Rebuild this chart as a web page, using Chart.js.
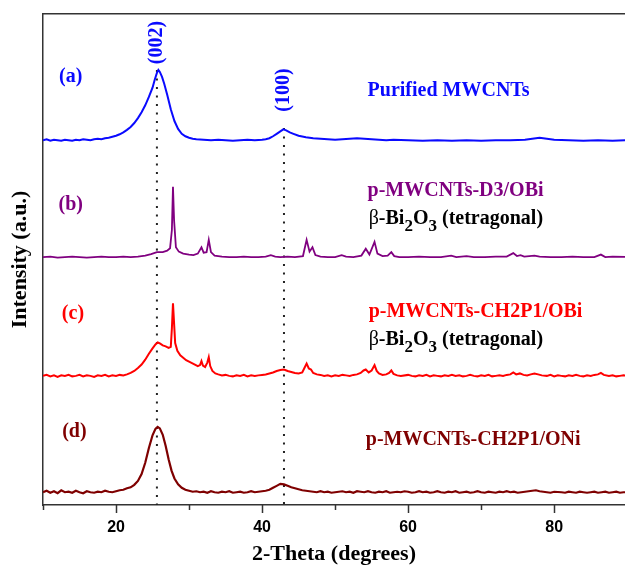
<!DOCTYPE html>
<html>
<head>
<meta charset="utf-8">
<script src="https://cdn.jsdelivr.net/npm/chart.js@4.4.1/dist/chart.umd.min.js"></script>
<style>
  html, body { margin: 0; padding: 0; background: #fff; }
  #wrap { width: 625px; height: 567px; }
</style>
</head>
<body>
<div id="wrap"><canvas id="xrdChart" width="625" height="567"></canvas></div>
<script>
// 2-theta tick values and their labels
const xTickValues = [10, 20, 30, 40, 50, 60, 70, 80];
const xTickLabels = ['', '20', '', '40', '', '60', '', '80'];

// (a) purified MWCNTs  [2theta, intensity]
const seriesA = [[10,74.3],[10.5,74.5],[11,74.2],[11.5,74.4],[12,74.3],[12.5,74.2],[13,74.4],[13.5,74.3],[14,74.2],[14.5,74.4],[15,74.3],[15.5,74.5],[16,74.4],[16.5,74.3],[17,74.5],[17.5,74.6],[18,74.5],[18.5,74.7],[19,74.8],[19.5,75.0],[20,75.2],[20.5,75.5],[21,75.9],[21.5,76.4],[22,77.0],[22.5,77.8],[23,78.8],[23.5,80.0],[24,81.4],[24.5,83.1],[25,85.0],[25.3,86.6],[25.6,88.0],[25.8,88.6],[26.0,88.2],[26.3,87.2],[26.6,85.8],[27,83.6],[27.5,80.6],[28,78.2],[28.5,76.6],[29,75.6],[29.5,75.1],[30,74.8],[30.5,74.6],[31,74.5],[32,74.4],[33,74.3],[34,74.4],[35,74.3],[36,74.2],[37,74.3],[38,74.4],[39,74.3],[40,74.4],[40.5,74.5],[41,74.7],[41.5,75.1],[42,75.6],[42.5,76.1],[42.9,76.5],[43.3,76.3],[43.8,75.9],[44.3,75.6],[45,75.2],[46,74.9],[47,74.7],[48,74.6],[49,74.5],[50,74.4],[51,74.5],[52,74.6],[53,74.7],[54,74.6],[55,74.5],[56,74.4],[57,74.3],[58,74.4],[60,74.3],[62,74.2],[64,74.3],[66,74.2],[68,74.3],[70,74.2],[72,74.3],[74,74.3],[76,74.4],[77,74.6],[78,74.8],[79,74.6],[80,74.4],[82,74.3],[84,74.2],[86,74.3],[88,74.2],[90,74.3]];

// (b) p-MWCNTs-D3/OBi
const seriesB = [[10,50.5],[11,50.6],[12,50.4],[13,50.5],[14,50.6],[15,50.5],[16,50.4],[17,50.5],[18,50.6],[19,50.5],[20,50.5],[21,50.6],[22,50.5],[23,50.6],[24,50.8],[24.8,51.1],[25.6,51.5],[26.4,51.5],[27,51.8],[27.4,52.3],[27.65,56],[27.8,64.8],[27.95,58],[28.2,52.5],[28.6,51.6],[29.2,51.2],[30,51.0],[30.6,50.9],[31.2,51.2],[31.7,52.5],[32.0,51.4],[32.4,51.5],[32.7,54.0],[33.0,51.5],[33.5,50.8],[34.5,50.6],[35.5,50.5],[36.5,50.5],[37.5,50.6],[38.5,50.5],[39.5,50.5],[40.5,50.6],[41.2,50.9],[41.8,50.6],[42.5,50.5],[43.5,50.6],[44.5,50.5],[45.6,50.7],[46.1,54.0],[46.5,51.6],[46.9,52.5],[47.3,50.9],[48,50.6],[49,50.5],[50,50.5],[50.9,50.9],[51.5,50.6],[52.5,50.5],[53.6,50.8],[54.2,52.2],[54.7,51.0],[55.4,53.6],[55.8,51.2],[56.5,50.7],[57.2,50.8],[57.7,51.5],[58.1,50.7],[58.8,50.5],[60,50.5],[61.5,50.6],[63,50.5],[64.5,50.5],[65.9,50.8],[66.6,50.5],[68,50.7],[69,50.5],[70.5,50.5],[72,50.6],[73.5,50.6],[74.4,51.3],[74.9,50.7],[75.4,50.9],[75.9,50.6],[77.3,50.8],[78,50.6],[79.5,50.5],[81,50.5],[82.5,50.6],[84,50.5],[85.5,50.5],[86.4,51.0],[87,50.5],[88,50.6],[90,50.5]];

// (c) p-MWCNTs-CH2P1/OBi
const seriesC = [[10,26.3],[10.5,26.5],[11,26.2],[11.5,26.4],[12,26.1],[12.5,26.4],[13,26.3],[13.5,26.5],[14,26.2],[14.5,26.3],[15,26.5],[15.5,26.2],[16,26.4],[16.5,26.3],[17,26.1],[17.5,26.4],[18,26.3],[18.5,26.5],[19,26.2],[19.5,26.4],[20,26.3],[20.5,26.5],[21,26.4],[21.5,26.6],[22,26.9],[22.5,27.3],[23,27.9],[23.5,28.6],[24,29.6],[24.5,30.8],[25,31.9],[25.4,32.7],[25.7,33.1],[26,32.9],[26.4,32.5],[26.8,32.3],[27.2,32.0],[27.5,32.2],[27.65,36],[27.8,41.1],[27.95,37],[28.1,33.0],[28.4,31.4],[28.8,30.5],[29.2,30.0],[29.6,29.5],[30,29.2],[30.4,28.9],[30.8,28.6],[31.2,28.3],[31.5,28.5],[31.7,29.3],[31.9,28.4],[32.2,28.1],[32.5,29.0],[32.7,30.1],[32.9,28.3],[33.2,27.3],[33.6,26.8],[34,26.6],[34.5,26.4],[35,26.5],[35.5,26.3],[36,26.2],[36.5,26.4],[37,26.3],[37.5,26.5],[38,26.2],[38.5,26.4],[39,26.3],[39.5,26.4],[40,26.5],[40.5,26.6],[41,26.8],[41.5,27.0],[42,27.3],[42.5,27.5],[43,27.6],[43.5,27.3],[44,27.1],[44.5,26.9],[45,26.8],[45.5,27.0],[45.8,27.9],[46.1,28.8],[46.4,27.8],[46.7,27.6],[47,26.9],[47.5,26.6],[48,26.5],[48.5,26.3],[49,26.4],[49.5,26.2],[50,26.4],[50.5,26.3],[51,26.5],[51.5,26.4],[52,26.3],[52.5,26.5],[53,26.6],[53.5,26.9],[53.9,27.4],[54.2,27.6],[54.6,27.0],[55.0,27.4],[55.4,28.5],[55.7,27.3],[56,26.8],[56.5,26.5],[57,26.6],[57.4,26.9],[57.7,27.4],[58,26.7],[58.5,26.4],[59,26.3],[60,26.5],[60.5,26.3],[61,26.2],[61.5,26.4],[62,26.3],[62.5,26.5],[63,26.2],[63.5,26.4],[64,26.3],[64.5,26.2],[65,26.4],[65.5,26.3],[66,26.5],[66.5,26.3],[67,26.4],[67.5,26.2],[68,26.3],[68.5,26.5],[69,26.3],[69.5,26.2],[70,26.4],[70.5,26.3],[71,26.5],[71.5,26.2],[72,26.3],[72.5,26.4],[73,26.3],[73.5,26.5],[74,26.6],[74.4,27.0],[74.8,26.6],[75.3,26.8],[75.8,26.5],[76.3,26.4],[76.8,26.6],[77.3,26.8],[77.8,26.6],[78.3,26.4],[79,26.3],[79.5,26.5],[80,26.2],[80.5,26.4],[81,26.3],[81.5,26.2],[82,26.4],[82.5,26.3],[83,26.5],[83.5,26.3],[84,26.2],[84.5,26.4],[85,26.3],[85.5,26.5],[86,26.6],[86.4,26.9],[86.8,26.5],[87.5,26.3],[88,26.4],[88.5,26.2],[89,26.3],[89.5,26.4],[90,26.3]];

// (d) p-MWCNTs-CH2P1/ONi
const seriesD = [[10,2.6],[10.5,2.9],[11,2.5],[11.5,2.8],[12,2.4],[12.5,3.0],[13,2.6],[13.5,2.7],[14,2.5],[14.5,2.9],[15,2.6],[15.5,2.4],[16,2.8],[16.5,2.6],[17,2.5],[17.5,2.7],[18,2.6],[18.5,2.9],[19,2.7],[19.5,2.6],[20,2.8],[20.5,3.0],[21,3.1],[21.5,3.4],[22,3.6],[22.5,4.1],[23,4.9],[23.5,6.3],[24,8.6],[24.5,11.6],[25,14.2],[25.4,15.5],[25.7,15.9],[26,15.6],[26.4,14.3],[26.8,12.0],[27.2,9.3],[27.6,7.0],[28,5.4],[28.5,4.2],[29,3.5],[29.5,3.1],[30,2.9],[30.5,2.7],[31,2.8],[31.5,2.6],[32,2.7],[32.5,2.5],[33,2.8],[33.5,2.6],[34,2.5],[34.5,2.7],[35,2.6],[35.5,2.8],[36,2.5],[36.5,2.6],[37,2.7],[37.5,2.5],[38,2.6],[38.5,2.8],[39,2.6],[39.5,2.7],[40,2.8],[40.5,2.9],[41,3.1],[41.5,3.5],[42,3.9],[42.5,4.3],[43,4.2],[43.5,3.9],[44,3.6],[44.5,3.4],[45,3.2],[45.5,3.0],[46,2.9],[46.5,2.8],[47,2.7],[47.5,2.6],[48,2.8],[48.5,2.6],[49,2.7],[49.5,2.5],[50,2.6],[51,2.8],[51.5,2.6],[52,2.7],[52.5,2.5],[53,2.8],[53.5,2.7],[54,2.6],[54.5,2.8],[55,2.6],[55.5,2.5],[56,2.7],[56.5,2.6],[57,2.8],[57.5,2.5],[58,2.6],[58.5,2.7],[59,2.6],[59.5,2.8],[60,2.7],[60.5,2.5],[61,2.6],[61.5,2.8],[62,2.6],[62.5,2.7],[63,2.5],[63.5,2.6],[64,2.8],[64.5,2.6],[65,2.5],[65.5,2.7],[66,2.6],[66.5,2.8],[67,2.5],[67.5,2.6],[68,2.7],[68.5,2.5],[69,2.6],[69.5,2.8],[70,2.6],[70.5,2.5],[71,2.7],[71.5,2.6],[72,2.5],[72.5,2.7],[73,2.6],[73.5,2.8],[74,2.6],[74.5,2.7],[75,2.5],[75.5,2.6],[76,2.7],[76.5,2.8],[77,2.9],[77.5,3.0],[78,2.8],[78.5,2.7],[79,2.6],[79.5,2.5],[80,2.7],[81,2.6],[81.5,2.5],[82,2.7],[82.5,2.6],[83,2.5],[83.5,2.7],[84,2.6],[84.5,2.5],[85,2.6],[85.5,2.7],[86,2.5],[86.5,2.6],[87,2.7],[87.5,2.5],[88,2.6],[88.5,2.7],[89,2.5],[89.5,2.6],[90,2.6]];

// dotted reference lines for (002) and (100)
const guideAngles = [25.6, 43.0];
const guideTops = [88.6, 76.8];
const guideNames = ['(002)', '(100)'];
const guideLabelY = [94.2, 84.5];

const BLUE = '#0a0aff';
const PURPLE = '#800080';
const RED = '#ff0000';
const DARKRED = '#7f0000';
const AXIS = '#333';
const SERIF = "'Liberation Serif', 'DejaVu Serif', serif";

// text annotations, placed in data coordinates (2theta, intensity) at the baseline
const beta = [['\u03b2', 'r'], ['-Bi', 'b'], ['2', 's'], ['O', 'b'], ['3', 's'], [' (tetragonal)', 'b']];
const notes = [
  { parts: [['(a)', 'b']], x: 13.8, y: 86.2, color: BLUE, align: 'center' },
  { parts: [['(b)', 'b']], x: 13.8, y: 60.1, color: PURPLE, align: 'center' },
  { parts: [['(c)', 'b']], x: 14.1, y: 37.9, color: RED, align: 'center' },
  { parts: [['(d)', 'b']], x: 14.3, y: 13.8, color: DARKRED, align: 'center' },
  { parts: [['Purified MWCNTs', 'b']], x: 54.45, y: 83.3, color: BLUE },
  { parts: [['p-MWCNTs-D3/OBi', 'b']], x: 54.45, y: 62.9, color: PURPLE },
  { parts: beta, x: 54.6, y: 57.2, color: '#000' },
  { parts: [['p-MWCNTs-CH2P1/OBi', 'b']], x: 54.6, y: 38.3, color: RED },
  { parts: beta, x: 54.6, y: 32.6, color: '#000' },
  { parts: [['p-MWCNTs-CH2P1/ONi', 'b']], x: 54.2, y: 12.2, color: DARKRED }
];

function partFont(style) {
  if (style === 'r') return '20px ' + SERIF;
  if (style === 's') return 'bold 17px ' + SERIF;
  return 'bold 20px ' + SERIF;
}

const decorPlugin = {
  id: 'decor',
  afterDatasetsDraw(chart) {
    const ctx = chart.ctx;
    const xs = chart.scales.x;
    const ys = chart.scales.y;
    ctx.save();

    // tick marks below the bottom axis
    ctx.strokeStyle = AXIS;
    ctx.lineWidth = 1.5;
    xTickValues.forEach((v, i) => {
      const px = Math.round(xs.getPixelForValue(v)) + 0.5;
      const len = xTickLabels[i] ? 8 : 5;
      ctx.beginPath();
      ctx.moveTo(px, ys.bottom);
      ctx.lineTo(px, ys.bottom + len);
      ctx.stroke();
    });

    // rotated peak labels
    ctx.fillStyle = BLUE;
    ctx.font = 'bold 20px ' + SERIF;
    ctx.textAlign = 'center';
    ctx.textBaseline = 'middle';
    guideNames.forEach((t, i) => {
      ctx.save();
      ctx.translate(xs.getPixelForValue(guideAngles[i]), ys.getPixelForValue(guideLabelY[i]));
      ctx.rotate(-Math.PI / 2);
      ctx.fillText(t, 0, 0);
      ctx.restore();
    });

    // sample labels
    ctx.textBaseline = 'alphabetic';
    ctx.textAlign = 'left';
    notes.forEach(n => {
      ctx.fillStyle = n.color;
      let width = 0;
      n.parts.forEach(p => { ctx.font = partFont(p[1]); width += ctx.measureText(p[0]).width; });
      let px = xs.getPixelForValue(n.x);
      if (n.align === 'center') px -= width / 2;
      const py = ys.getPixelForValue(n.y);
      n.parts.forEach(p => {
        ctx.font = partFont(p[1]);
        ctx.fillText(p[0], px, py + (p[1] === 's' ? 7 : 0));
        px += ctx.measureText(p[0]).width;
      });
    });
    ctx.restore();
  }
};

function curve(data, color, width) {
  return { data: data, borderColor: color, borderWidth: width, pointRadius: 0, tension: 0, fill: false };
}

const guideSets = guideAngles.map((a, i) => ({
  data: [[a, guideTops[i]], [a, 0]],
  borderColor: '#222',
  borderWidth: 2,
  borderDash: [2, 6.5],
  pointRadius: 0,
  fill: false
}));

const ctxXrd = document.getElementById('xrdChart').getContext('2d');
const xrdChart = new Chart(ctxXrd, {
  type: 'line',
  data: {
    datasets: [
      curve(seriesA, BLUE, 2),
      curve(seriesB, PURPLE, 1.8),
      curve(seriesC, RED, 2),
      curve(seriesD, DARKRED, 2.2)
    ].concat(guideSets)
  },
  options: {
    responsive: false,
    animation: false,
    devicePixelRatio: 1,
    layout: { padding: { top: 14, left: 0, right: 0, bottom: 0 } },
    plugins: { legend: { display: false }, tooltip: { enabled: false } },
    scales: {
      x: {
        type: 'linear',
        position: 'bottom',
        min: 10,
        max: 89.7,
        afterBuildTicks: axis => { axis.ticks = xTickValues.map(v => ({ value: v })); },
        afterFit: s => { s.height = 62; },
        ticks: {
          callback: (value, index) => xTickLabels[index],
          font: { family: "'Liberation Sans', Arial, sans-serif", size: 16, weight: 'bold' },
          color: '#000',
          padding: 13,
          maxRotation: 0,
          autoSkip: false
        },
        grid: { display: true, drawOnChartArea: false, drawTicks: false },
        border: { color: AXIS, width: 1.5 },
        title: {
          display: true,
          text: '2-Theta (degrees)',
          color: '#000',
          font: { family: SERIF, size: 22, weight: 'bold', lineHeight: 1 },
          padding: { top: 0, bottom: 2 }
        }
      },
      xTop: {
        type: 'linear',
        position: 'top',
        min: 10,
        max: 89.7,
        afterFit: s => { s.height = 0; },
        ticks: { display: false },
        grid: { display: true, drawOnChartArea: false, drawTicks: false },
        border: { color: AXIS, width: 1.5 }
      },
      y: {
        type: 'linear',
        min: 0,
        max: 100,
        afterFit: s => { s.width = 43; },
        ticks: { display: false },
        grid: { display: true, drawOnChartArea: false, drawTicks: false },
        border: { color: AXIS, width: 1.5 },
        title: {
          display: true,
          text: 'Intensity (a.u.)',
          color: '#000',
          font: { family: SERIF, size: 22, weight: 'bold', lineHeight: 1 },
          padding: { top: 9, bottom: 0 }
        }
      }
    }
  },
  plugins: [decorPlugin]
});
</script>
</body>
</html>
